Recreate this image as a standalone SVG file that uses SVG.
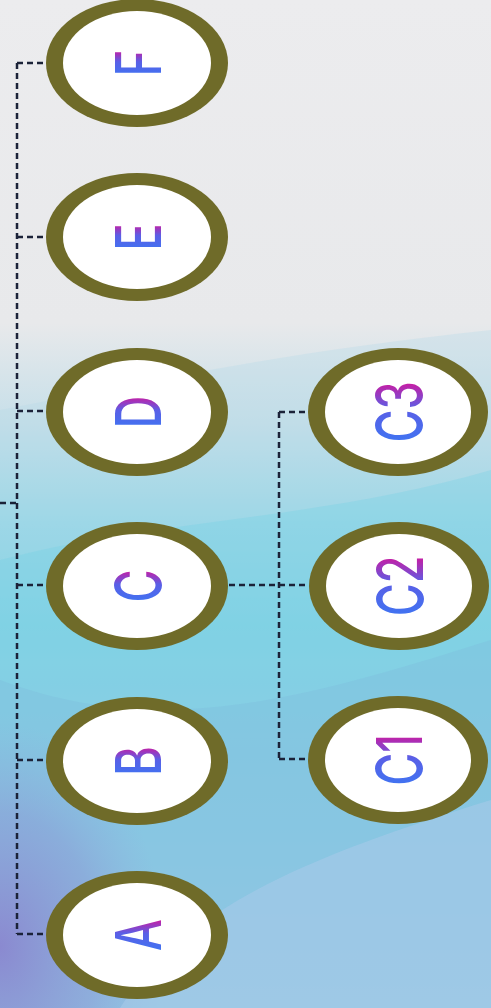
<svg xmlns="http://www.w3.org/2000/svg" width="491" height="1008" viewBox="0 0 491 1008">
<defs>
<linearGradient id="bg" x1="0" y1="0" x2="0" y2="1">
<stop offset="0" stop-color="#ececee"/>
<stop offset="0.32" stop-color="#e8e9eb"/>
<stop offset="0.42" stop-color="#c6dfe9"/>
<stop offset="0.52" stop-color="#8fd6e6"/>
<stop offset="0.62" stop-color="#6ecfe2"/>
<stop offset="0.78" stop-color="#84c2e2"/>
<stop offset="1" stop-color="#a9c6e8"/>
</linearGradient>
<radialGradient id="purp" cx="0" cy="0.85" r="0.55" gradientTransform="scale(1 1)">
<stop offset="0" stop-color="#8a86cf" stop-opacity="0.95"/>
<stop offset="0.6" stop-color="#8c95d4" stop-opacity="0.5"/>
<stop offset="1" stop-color="#90a8dc" stop-opacity="0"/>
</radialGradient>
<linearGradient id="tg" x1="0" y1="0" x2="1" y2="0">
<stop offset="0" stop-color="#3f74f2"/>
<stop offset="0.55" stop-color="#5a5fe6"/>
<stop offset="1" stop-color="#d0189e"/>
</linearGradient>
<style>
.ring{fill:#6f6b29}
.core{fill:#ffffff}
.lbl{font-family:Inter,"Noto Sans",sans-serif;font-size:45px;font-weight:500;fill:url(#tg);text-anchor:middle;dominant-baseline:central}
.con{fill:none;stroke:#1b2238;stroke-width:2.5;stroke-dasharray:6 4}
</style>
</defs>
<rect width="491" height="1008" fill="url(#bg)"/>
<path d="M0 410 C150 380 300 350 491 330 L491 1008 L0 1008 Z" fill="#b8dbe9" opacity="0.35"/>
<path d="M0 560 C150 520 320 520 491 470 L491 1008 L0 1008 Z" fill="#6fd0e3" opacity="0.3"/>
<path d="M0 680 C160 740 300 700 491 640 L491 1008 L0 1008 Z" fill="#7fb9de" opacity="0.35"/>
<rect x="0" y="600" width="300" height="408" fill="url(#purp)"/>
<path d="M120 1008 C190 900 330 850 491 800 L491 1008 Z" fill="#a9cbea" opacity="0.55"/>
<g id="connectors">
<path class="con" d="M17 63 V934"/>
<path class="con" d="M0 503 H17"/>
<path class="con" d="M17 63 H46 M17 237 H46 M17 411 H46 M17 585 H46 M17 760 H46 M17 934 H46"/>
<path class="con" d="M279 412 V759"/>
<path class="con" d="M279 412 H308 M229 585 H308 M279 759 H308"/>
</g>
<g id="node-F"><ellipse class="ring" cx="137" cy="63" rx="91" ry="64"/><ellipse class="core" cx="137" cy="63" rx="74" ry="52"/><text class="lbl" transform="translate(137 63) scale(1.42 1) rotate(-90)">F</text></g>
<g id="node-E"><ellipse class="ring" cx="137" cy="237" rx="91" ry="64"/><ellipse class="core" cx="137" cy="237" rx="74" ry="52"/><text class="lbl" transform="translate(137 237) scale(1.42 1) rotate(-90)">E</text></g>
<g id="node-D"><ellipse class="ring" cx="137" cy="412" rx="91" ry="64"/><ellipse class="core" cx="137" cy="412" rx="74" ry="52"/><text class="lbl" transform="translate(137 412) scale(1.42 1) rotate(-90)">D</text></g>
<g id="node-C"><ellipse class="ring" cx="137" cy="586" rx="91" ry="64"/><ellipse class="core" cx="137" cy="586" rx="74" ry="52"/><text class="lbl" transform="translate(137 586) scale(1.42 1) rotate(-90)">C</text></g>
<g id="node-B"><ellipse class="ring" cx="137" cy="761" rx="91" ry="64"/><ellipse class="core" cx="137" cy="761" rx="74" ry="52"/><text class="lbl" transform="translate(137 761) scale(1.42 1) rotate(-90)">B</text></g>
<g id="node-A"><ellipse class="ring" cx="137" cy="935" rx="91" ry="64"/><ellipse class="core" cx="137" cy="935" rx="74" ry="52"/><text class="lbl" transform="translate(137 935) scale(1.42 1) rotate(-90)">A</text></g>
<g id="node-C3"><ellipse class="ring" cx="398" cy="412" rx="90" ry="64"/><ellipse class="core" cx="398" cy="412" rx="73" ry="52"/><text class="lbl" transform="translate(398 412) scale(1.42 1) rotate(-90)">C3</text></g>
<g id="node-C2"><ellipse class="ring" cx="399" cy="586" rx="90" ry="64"/><ellipse class="core" cx="399" cy="586" rx="73" ry="52"/><text class="lbl" transform="translate(399 586) scale(1.42 1) rotate(-90)">C2</text></g>
<g id="node-C1"><ellipse class="ring" cx="398" cy="760" rx="90" ry="64"/><ellipse class="core" cx="398" cy="760" rx="73" ry="52"/><text class="lbl" transform="translate(398 760) scale(1.42 1) rotate(-90)">C1</text></g>
</svg>
